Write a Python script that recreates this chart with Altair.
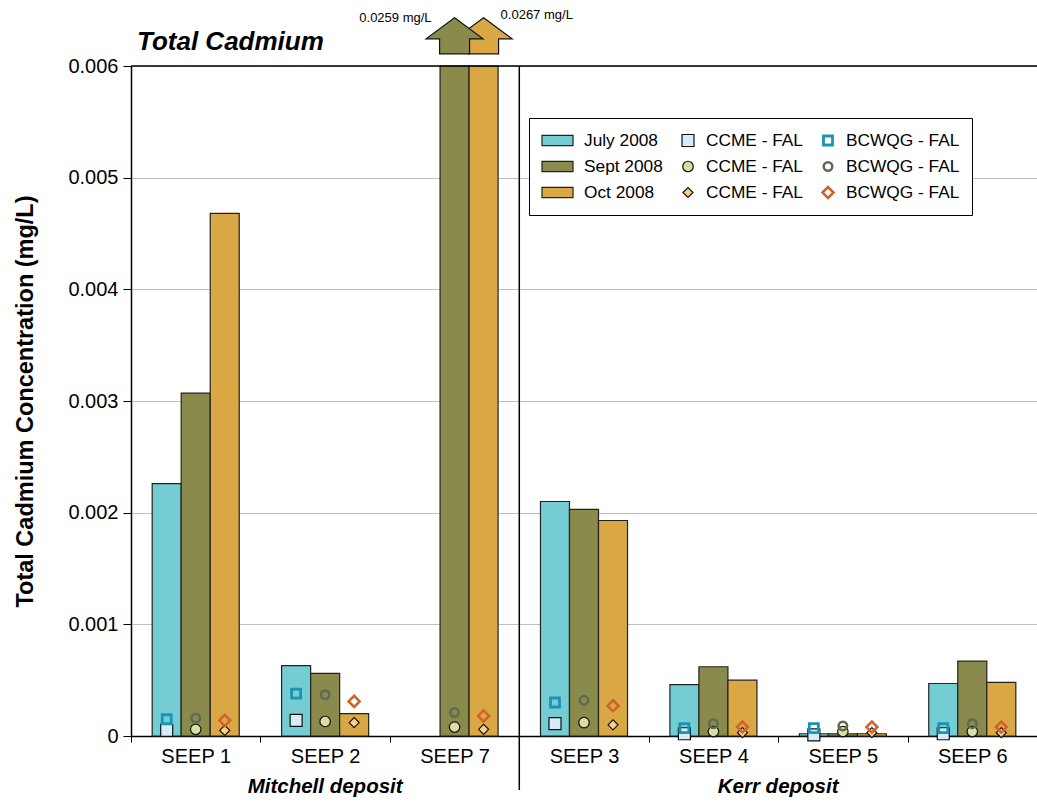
import altair as alt
import pandas as pd

FONT = "Liberation Sans"

seeps = ["SEEP 1", "SEEP 2", "SEEP 7", "SEEP 3", "SEEP 4", "SEEP 5", "SEEP 6"]
months = ["July 2008", "Sept 2008", "Oct 2008"]

# measured totals (mg/L)
july = [0.00226, 0.00063, None, 0.00210, 0.00046, 0.00002, 0.00047]
sept = [0.00307, 0.00056, 0.0259, 0.00203, 0.00062, 0.00002, 0.00067]
octo = [0.00468, 0.00020, 0.0267, 0.00193, 0.00050, 0.00002, 0.00048]

# guidelines (mg/L)
ccme_july = [0.00005, 0.00014, None, 0.00011, 0.00002, 0.00001, 0.00002]
ccme_sept = [0.00006, 0.00013, 0.00008, 0.00012, 0.00004, 0.00004, 0.00004]
ccme_oct = [0.00005, 0.00012, 0.00006, 0.00010, 0.00003, 0.00003, 0.00003]
bcwqg_july = [0.00015, 0.00038, None, 0.00030, 0.00007, 0.00007, 0.00007]
bcwqg_sept = [0.00016, 0.00037, 0.00021, 0.00032, 0.00011, 0.00009, 0.00011]
bcwqg_oct = [0.00014, 0.00031, 0.00018, 0.00027, 0.00008, 0.00008, 0.00008]

y_ticks = [0, 0.001, 0.002, 0.003, 0.004, 0.005, 0.006]
y_max = 0.006
arrow_level = 0.00627

title_text = ["Total Cadmium"]
deposits = ["Mitchell deposit", "Kerr deposit"]
deposit_seeps = ["SEEP 2", "SEEP 5"]

marker_tags = ["sq", "ci", "di"]
legend_keys = ["July 2008", "Sept 2008", "Oct 2008",
               "CCME - FAL|sq", "CCME - FAL|ci", "CCME - FAL|di",
               "BCWQG - FAL|sq", "BCWQG - FAL|ci", "BCWQG - FAL|di"]

RECT = "M-2.4,-0.52H0.7V0.52H-2.4Z"
ARROW = "M0,-0.632L1,0.105L0.526,0.105L0.526,0.632L-0.526,0.632L-0.526,0.105L-1,0.105Z"

fills = ["#74CDD3", "#8A8A4C", "#D9A844",
         "#D6ECF9", "#D8DFA0", "#FDD08F",
         "transparent", "transparent", "transparent"]
strokes = ["#222222", "#222222", "#222222",
           "#111111", "#111111", "#111111",
           "#1B93B5", "#5E6A52", "#D0622B"]
shapes = [RECT, RECT, RECT, "square", "circle", "diamond", "square", "circle", "diamond"]
sizes = [400, 400, 400, 144, 110, 100, 81, 72, 121]
stroke_widths = [1.2, 1.2, 1.2, 1.2, 1.2, 1.2, 2.8, 2.5, 2.5]

bar_rows = []
for m, vals in zip(months, [july, sept, octo]):
    for s, v in zip(seeps, vals):
        if v is not None:
            bar_rows.append({"seep": s, "month": m, "value": v, "key": m})
bars_df = pd.DataFrame(bar_rows)

pt_rows = []
for i, (m, cc, bc) in enumerate(zip(months, [ccme_july, ccme_sept, ccme_oct],
                                    [bcwqg_july, bcwqg_sept, bcwqg_oct])):
    for s, c, b in zip(seeps, cc, bc):
        if c is not None:
            pt_rows.append({"seep": s, "month": m, "v": c, "key": f"CCME - FAL|{marker_tags[i]}"})
        if b is not None:
            pt_rows.append({"seep": s, "month": m, "v": b, "key": f"BCWQG - FAL|{marker_tags[i]}"})
pts_df = pd.DataFrame(pt_rows)

W, H = 906, 670

LEG = alt.Legend(
    title=None, orient="none", legendX=398, legendY=52, columns=3,
    columnPadding=0, rowPadding=5, clipHeight=21, labelOffset=7, symbolOffset=14,
    labelFont=FONT, labelFontSize=17.3, labelColor="black", labelLimit=300,
    strokeColor="black", fillColor="white", padding=12,
    labelExpr="split(datum.label, '|')[0]",
)

def sc(rng, typ=None):
    if typ:
        return alt.Scale(type=typ, domain=legend_keys, range=rng)
    return alt.Scale(domain=legend_keys, range=rng)

X = alt.X("seep:N", sort=seeps, scale=alt.Scale(domain=seeps, paddingInner=0, paddingOuter=0),
          axis=alt.Axis(title=None, labelAngle=0, labelFont=FONT, labelFontSize=20,
                        labelColor="black", tickBand="extent", tickSize=6, tickColor="black",
                        domainColor="black", domainWidth=1.5, labelPadding=4, grid=False))
XO = alt.XOffset("month:N", sort=months,
                 scale=alt.Scale(domain=months, paddingInner=0, paddingOuter=0.73))
YSC = alt.Scale(domain=[0, y_max], nice=False, zero=True)
Y = alt.Y("v:Q", scale=YSC,
          axis=alt.Axis(title="Total Cadmium Concentration (mg/L)", values=y_ticks,
                        labelExpr="datum.value == 0 ? '0' : format(datum.value, '.3f')",
                        labelFont=FONT, labelFontSize=20, labelColor="black",
                        titleFont=FONT, titleFontSize=23.5, titleFontWeight="bold",
                        titleColor="black", titlePadding=30, tickSize=8, tickColor="black",
                        domainColor="black", domainWidth=1.5, labelPadding=5,
                        grid=True, gridColor="#BFBFBF", gridWidth=1))

base_bars = alt.Chart(bars_df)

bars = base_bars.transform_calculate(v="min(datum.value, %s)" % y_max).mark_bar(
    stroke="#222222", strokeWidth=1.2).encode(
    x=X, xOffset=XO, y=Y,
    fill=alt.Fill("key:N", scale=sc(fills), legend=LEG),
)

points = alt.Chart(pts_df).mark_point(filled=True, opacity=1).encode(
    x="seep:N", xOffset=alt.XOffset("month:N", sort=months), y="v:Q",
    fill=alt.Fill("key:N", scale=sc(fills), legend=LEG),
    stroke=alt.Stroke("key:N", scale=sc(strokes), legend=LEG),
    shape=alt.Shape("key:N", scale=sc(shapes), legend=LEG),
    size=alt.Size("key:N", scale=sc(sizes, "ordinal"), legend=LEG),
    strokeWidth=alt.StrokeWidth("key:N", scale=sc(stroke_widths, "ordinal"), legend=LEG),
)

over = base_bars.transform_filter("datum.value > %s" % y_max).transform_calculate(
    v=str(arrow_level), label="format(datum.value, '.4f') + ' mg/L'")

arrow_oct = over.transform_filter("datum.month == 'Oct 2008'").mark_point(
    filled=True, opacity=1, shape=ARROW, size=3249, stroke="#111111", strokeWidth=1.2,
    clip=False).encode(x="seep:N", xOffset=alt.XOffset("month:N", sort=months), y="v:Q",
                      fill=alt.Fill("key:N", scale=sc(fills), legend=LEG))
arrow_sept = over.transform_filter("datum.month == 'Sept 2008'").mark_point(
    filled=True, opacity=1, shape=ARROW, size=3249, stroke="#111111", strokeWidth=1.2,
    clip=False).encode(x="seep:N", xOffset=alt.XOffset("month:N", sort=months), y="v:Q",
                      fill=alt.Fill("key:N", scale=sc(fills), legend=LEG))

lab_sept = over.transform_filter("datum.month == 'Sept 2008'").mark_text(
    font=FONT, fontSize=13, align="right", baseline="middle", dx=-23, dy=-18,
    color="black").encode(x="seep:N", xOffset=alt.XOffset("month:N", sort=months),
                          y="v:Q", text="label:N")
lab_oct = over.transform_filter("datum.month == 'Oct 2008'").mark_text(
    font=FONT, fontSize=13, align="left", baseline="middle", dx=17, dy=-21,
    color="black").encode(x="seep:N", xOffset=alt.XOffset("month:N", sort=months),
                          y="v:Q", text="label:N")

top_rule = alt.Chart(pd.DataFrame({"v": [y_max]})).mark_rule(
    color="black", strokeWidth=1.5).encode(y="v:Q", x=alt.value(0), x2=alt.value(W))

sep_rule = alt.Chart(pd.DataFrame({"seep": ["SEEP 3"]})).mark_rule(
    color="black", strokeWidth=1.5).encode(
    x=alt.X("seep:N", bandPosition=0), y=alt.value(0), y2=alt.value(H + 54))

dep_df = pd.DataFrame({"seep": deposit_seeps, "label": deposits})
dep1 = alt.Chart(dep_df).transform_filter("datum.label == 'Mitchell deposit'").mark_text(
    font=FONT, fontSize=20.5, fontWeight="bold", fontStyle="italic", baseline="alphabetic",
    align="center", color="black").encode(
    x=alt.X("seep:N", bandPosition=0.5), y=alt.value(H + 57), text="label:N")
dep2 = alt.Chart(dep_df).transform_filter("datum.label == 'Kerr deposit'").mark_text(
    font=FONT, fontSize=20.5, fontWeight="bold", fontStyle="italic", baseline="alphabetic",
    align="center", color="black").encode(
    x=alt.X("seep:N", bandPosition=0), y=alt.value(H + 57), text="label:N")

title = alt.Chart(pd.DataFrame({"t": title_text})).mark_text(
    font=FONT, fontSize=26, fontWeight="bold", fontStyle="italic", baseline="alphabetic",
    align="left", color="black").encode(x=alt.value(6), y=alt.value(-16), text="t:N")

chart = alt.layer(
    bars, points, top_rule, sep_rule, arrow_oct, arrow_sept, lab_sept, lab_oct,
    dep1, dep2, title
).properties(
    width=W, height=H,
    autosize=alt.AutoSizeParams(type="none"),
    padding={"left": 131, "top": 66, "right": 0, "bottom": 66},
).configure_view(stroke="transparent", strokeWidth=0).configure(background="white")

chart.save("out.html", embed_options={"renderer": "svg", "actions": False})
